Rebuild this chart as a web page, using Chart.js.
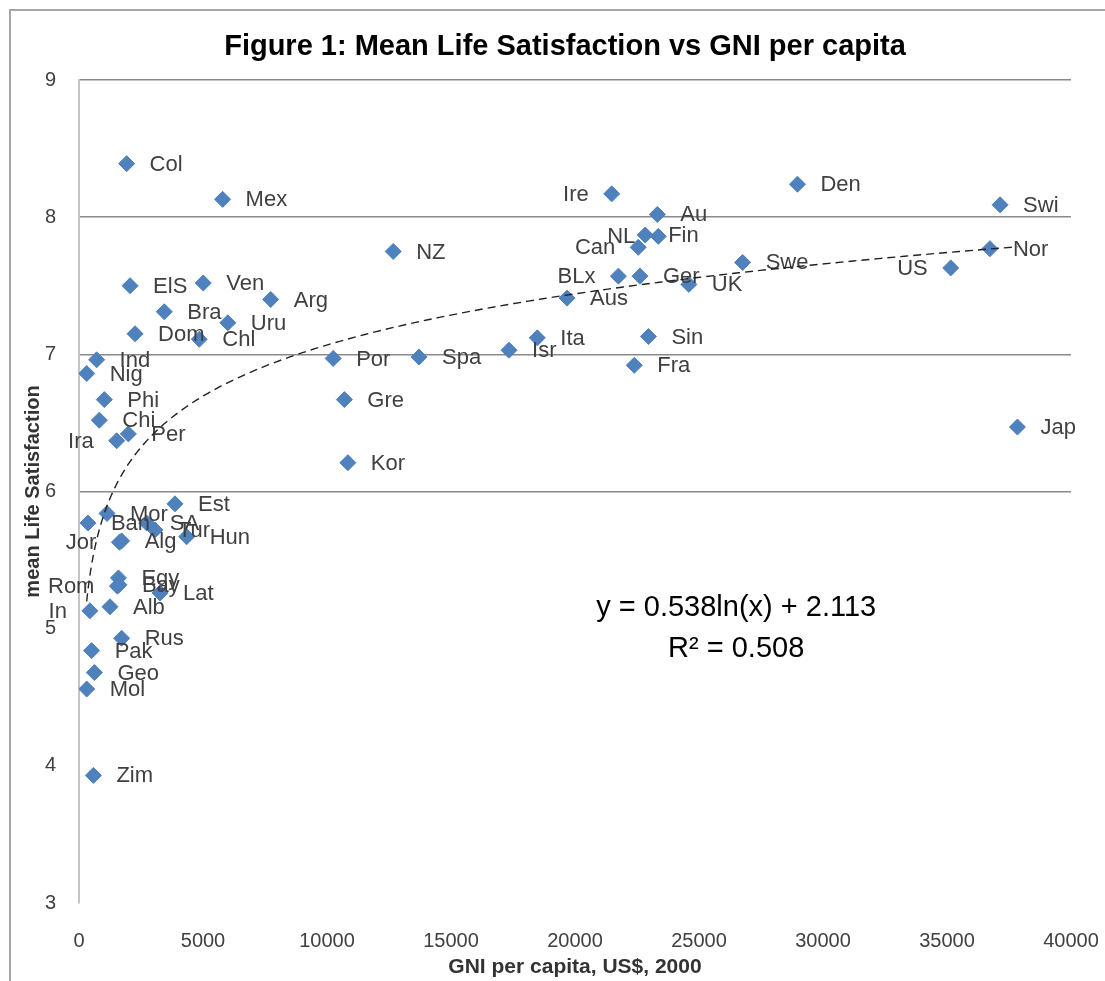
<!DOCTYPE html>
<html><head><meta charset="utf-8">
<script src="https://cdn.jsdelivr.net/npm/chart.js@4.4.1/dist/chart.umd.min.js"></script>
<style>html,body{margin:0;padding:0;background:#fff;}#wrap{width:1105px;height:981px;position:relative;}</style>
</head><body><div id="wrap"><canvas id="c" width="1105" height="981"></canvas></div>
<script>
// ---- data ----
const countries = ['Col','Mex','NZ','ElS','Ven','Arg','Bra','Uru','Dom','Chl','Ind','Nig','Phi','Chi','Ira','Per',
  'Por','Spa','Isr','Ita','Aus','BLx','Ger','UK','Sin','Fra','Gre','Kor','Ire','Au','Can','NL','Fin','Swe','Den',
  'Swi','Nor','US','Jap','Ban','Mor','SA','Tur','Alg','Jor','Est','Hun','Rom','Egy','Bay','Lat','In','Alb','Rus',
  'Pak','Geo','Mol','Zim'];
const gni = [1920,5790,12670,2060,5010,7730,3440,6000,2260,4850,710,310,1020,820,1520,1990,
  10250,13710,17340,18480,19680,21750,22620,24590,22960,22390,10700,10840,21480,23320,22550,23360,22830,26760,28970,
  37140,36730,35150,37840,360,1130,2730,3060,1720,1630,3870,4340,1550,1590,1610,3270,440,1250,1720,
  510,620,310,580];
const satisfaction = [8.39,8.13,7.75,7.50,7.52,7.40,7.31,7.23,7.15,7.11,6.96,6.86,6.67,6.52,6.37,6.42,
  6.97,6.98,7.03,7.12,7.41,7.57,7.57,7.51,7.13,6.92,6.67,6.21,8.17,8.02,7.78,7.86,7.87,7.67,8.24,
  8.09,7.77,7.63,6.47,5.77,5.84,5.77,5.72,5.64,5.63,5.91,5.67,5.31,5.37,5.32,5.26,5.13,5.16,4.93,
  4.84,4.68,4.56,3.93];
const xTicks = [0,5000,10000,15000,20000,25000,30000,35000,40000];
const yTicks = [3,4,5,6,7,8,9];
const trendA = 0.538, trendB = 2.113;          // y = a ln(x) + b, as printed on the chart
const equationText = 'y = 0.538ln(x) + 2.113';
const r2Text = 'R\u00B2 = 0.508';
const chartTitle = 'Figure 1: Mean Life Satisfaction vs GNI per capita';
const xTitle = 'GNI per capita, US$, 2000';
const yTitle = 'mean Life Satisfaction';

// ---- presentation ----
const FONT = '"Liberation Sans", Arial, sans-serif';
const leftLabelled = new Set(['Ire','Can','NL','BLx','US','Ira','Jor','Rom','In']);
const eqAnchor = {x: 26500, y1: 5.15, y2: 4.855};

const points = gni.map((g, i) => ({x: g, y: satisfaction[i]}));
const xMin = Math.min(...gni), xMax = Math.max(...gni);
const trend = [];
for (let k = 0; k <= 150; k++) {
  const x = xMin * Math.pow(xMax / xMin, k / 150);
  trend.push({x: x, y: trendA * Math.log(x) + trendB});
}

const decor = {
  id: 'decor',
  beforeDraw(chart) {
    const c = chart.ctx;
    c.save();
    c.fillStyle = '#fff'; c.fillRect(0, 0, chart.width, chart.height);
    c.strokeStyle = '#a6a6a6'; c.lineWidth = 2;
    c.beginPath(); c.moveTo(10, 1000); c.lineTo(10, 10); c.lineTo(1120, 10); c.stroke();
    c.fillStyle = '#000'; c.font = 'bold 29px ' + FONT;
    c.textAlign = 'center'; c.textBaseline = 'middle';
    c.fillText(chartTitle, 565, 47);
    c.restore();
  },
  afterDatasetDraw(chart, args) {
    if (args.index !== 0) return;
    const c = chart.ctx;
    c.save();
    c.font = '22px ' + FONT; c.fillStyle = '#404040'; c.textBaseline = 'middle';
    args.meta.data.forEach((pt, i) => {
      const name = countries[i];
      const left = leftLabelled.has(name);
      c.textAlign = left ? 'right' : 'left';
      c.fillText(name, pt.x + (left ? -23 : 23), pt.y + 1);
    });
    c.restore();
  },
  afterDraw(chart) {
    const c = chart.ctx, xs = chart.scales.x, ys = chart.scales.y;
    c.save();
    c.font = '29px ' + FONT; c.fillStyle = '#000'; c.textAlign = 'center'; c.textBaseline = 'middle';
    const px = xs.getPixelForValue(eqAnchor.x);
    c.fillText(equationText, px, ys.getPixelForValue(eqAnchor.y1));
    c.fillText(r2Text, px, ys.getPixelForValue(eqAnchor.y2));
    c.restore();
  }
};

new Chart(document.getElementById('c'), {
  type: 'scatter',
  data: {
    datasets: [
      {label: 'Countries', data: points, order: 1, pointStyle: 'rectRot', pointRadius: 8, pointHoverRadius: 8,
       backgroundColor: '#4F81BD', borderColor: '#4F81BD', borderWidth: 1},
      {label: 'Trend', type: 'line', data: trend, order: 0, showLine: true, pointRadius: 0, fill: false,
       borderColor: '#222', borderWidth: 1.4, borderDash: [8, 5], tension: 0}
    ]
  },
  options: {
    responsive: false, animation: false, devicePixelRatio: 1,
    layout: {padding: {top: 80, right: 34, left: 0, bottom: 0}},
    plugins: {legend: {display: false}, tooltip: {enabled: false}, title: {display: false}},
    scales: {
      x: {
        type: 'linear', min: 0, max: 40000,
        afterBuildTicks: s => { s.ticks = xTicks.map(v => ({value: v})); },
        afterFit: s => { s.height = 78; s.paddingLeft = 0; s.paddingRight = 0; },
        grid: {display: false, drawTicks: false},
        border: {display: false},
        ticks: {font: {family: FONT, size: 20}, color: '#404040', padding: 26, maxRotation: 0, callback: v => String(v)},
        title: {display: true, text: xTitle, font: {family: FONT, size: 21, weight: 'bold'}, color: '#333', padding: {top: 0, bottom: 1}}
      },
      y: {
        type: 'linear', min: 3, max: 9,
        afterBuildTicks: s => { s.ticks = yTicks.map(v => ({value: v})); },
        afterFit: s => { s.width = 79; s.paddingTop = 0; s.paddingBottom = 0; },
        grid: {drawTicks: false, lineWidth: 1.5, color: c => (c.tick && c.tick.value >= 6 ? '#8a8a8a' : 'rgba(0,0,0,0)')},
        border: {display: true, color: '#c4c4c4', width: 2},
        ticks: {font: {family: FONT, size: 20}, color: '#404040', padding: 23, callback: v => String(v)},
        title: {display: true, text: yTitle, font: {family: FONT, size: 20, weight: 'bold'}, color: '#333', padding: {top: 21, bottom: 0}}
      }
    }
  },
  plugins: [decor]
});
</script></body></html>
